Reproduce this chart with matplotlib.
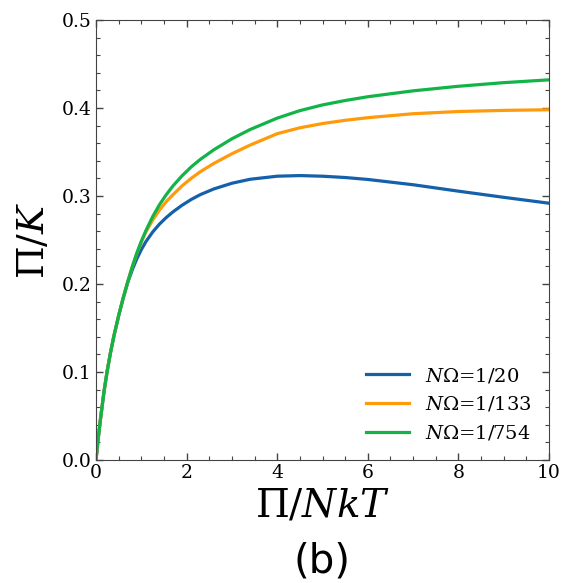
import matplotlib
matplotlib.use("Agg")
import matplotlib.pyplot as plt
from matplotlib.ticker import MultipleLocator

plt.rcParams['font.family'] = ['DejaVu Serif']
plt.rcParams['mathtext.fontset'] = 'dejavuserif'

# Pi/NkT values (sampled from the figure)
x = [0, 0.05, 0.1, 0.18, 0.25, 0.32, 0.4, 0.5, 0.6, 0.7, 0.8, 0.9, 1.0, 1.1,
     1.25, 1.4, 1.55, 1.7, 1.9, 2.1, 2.3, 2.6, 3.0, 3.4, 4.0, 4.5, 5.0, 5.5,
     6.0, 7.0, 8.0, 9.0, 10.0]

# Pi/K for N*Omega = 1/20
y_20 = [0, 0.025, 0.047, 0.079, 0.102, 0.122, 0.142, 0.164, 0.184, 0.2015,
        0.216, 0.2285, 0.239, 0.248, 0.259, 0.268, 0.2755, 0.282, 0.2895,
        0.296, 0.3015, 0.308, 0.3145, 0.319, 0.3225, 0.3232, 0.3225, 0.321,
        0.3188, 0.3128, 0.3055, 0.2985, 0.2918]

# Pi/K for N*Omega = 1/133
y_133 = [0, 0.025, 0.047, 0.079, 0.102, 0.122, 0.142, 0.164, 0.184, 0.2025,
         0.2195, 0.2345, 0.2475, 0.259, 0.2725, 0.284, 0.2935, 0.3015, 0.3115,
         0.320, 0.3275, 0.337, 0.348, 0.3578, 0.3708, 0.3775, 0.3823, 0.386,
         0.389, 0.3935, 0.396, 0.3973, 0.398]

# Pi/K for N*Omega = 1/754
y_754 = [0, 0.025, 0.047, 0.079, 0.102, 0.122, 0.142, 0.164, 0.184, 0.2025,
         0.2195, 0.235, 0.2485, 0.2605, 0.2765, 0.290, 0.3015, 0.3115, 0.323,
         0.333, 0.3415, 0.3525, 0.365, 0.3755, 0.3885, 0.397, 0.4035, 0.4085,
         0.4128, 0.4195, 0.4247, 0.4288, 0.432]

labels = [r'$N\Omega$=1/20', r'$N\Omega$=1/133', r'$N\Omega$=1/754']
colors = ['#1460aa', '#ff9a0a', '#12b347']

fig = plt.figure(figsize=(5.61, 5.83), dpi=100)
ax = fig.add_axes([96 / 561, 123 / 583, 453 / 561, 440 / 583])

for ys, lab, c in zip([y_20, y_133, y_754], labels, colors):
    ax.plot(x, ys, color=c, lw=2.3, label=lab)

ax.set_xlim(0, 10)
ax.set_ylim(0, 0.5)
ax.xaxis.set_major_locator(MultipleLocator(2))
ax.xaxis.set_minor_locator(MultipleLocator(0.5))
ax.yaxis.set_major_locator(MultipleLocator(0.1))
ax.yaxis.set_minor_locator(MultipleLocator(0.02))
ax.tick_params(which='both', direction='in', top=True, right=True,
               color='#444444', labelsize=13.5, pad=3)
ax.tick_params(which='major', length=5, width=1)
ax.tick_params(which='minor', length=3, width=0.8)
for s in ax.spines.values():
    s.set_color('#444444')

ax.set_xlabel(r'$\Pi/NkT$', fontsize=28, labelpad=4)
ax.set_ylabel(r'$\Pi/K$', fontsize=27, labelpad=7)

ax.legend(loc='lower right', frameon=False, fontsize=14, handlelength=2.2)

fig.text(322 / 561, 1 - 561 / 583, '(b)', fontsize=29, ha='center', va='center',
         family='DejaVu Sans')

fig.savefig('out.png', dpi=100)
